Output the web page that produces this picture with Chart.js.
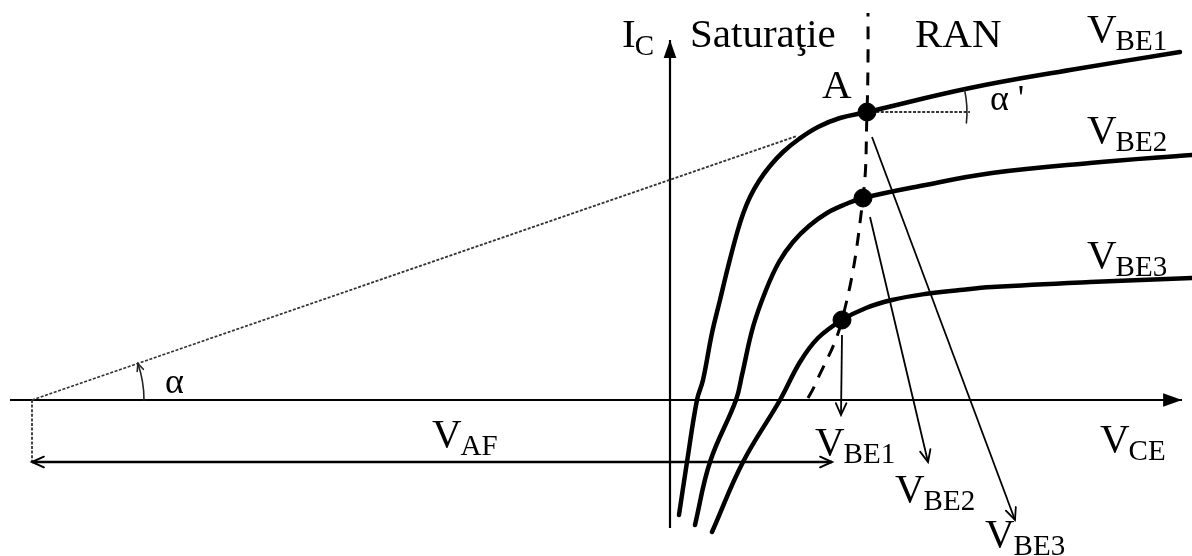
<!DOCTYPE html>
<html lang="ro">
<head>
<meta charset="utf-8">
<title>Efectul Early</title>
<script src="https://cdn.jsdelivr.net/npm/chart.js@4.4.1/dist/chart.umd.min.js"></script>
<style>
  html, body { margin: 0; padding: 0; background: #fff; }
  .box { width: 1192px; height: 556px; }
</style>
</head>
<body>
<div class="box"><canvas id="earlycanvas"></canvas></div>
<script>
// caracteristicile de iesire IC(VCE) pentru cele trei valori VBE
const vce1 = [0.9, 1.7, 2.7, 3.3, 4.2, 5.0, 5.8, 6.7, 7.3, 8.0, 8.9, 10.0, 11.3, 12.9, 14.8, 17.0, 19.7, 30.0, 40.0, 51.0];
const ic1  = [-11.5, -6.2, 0, 2.0, 6.7, 10.0, 13.3, 16.7, 18.6, 20.3, 21.9, 23.4, 24.8, 26.1, 27.3, 28.2, 28.8, 31.2, 33.0, 34.8];
const vce2 = [2.5, 4.0, 6.6, 7.2, 8.3, 9.6, 10.9, 12.3, 13.9, 15.7, 17.6, 19.3, 25.0, 32.2, 42.0, 52.2];
const ic2  = [-12.5, -6.2, 0, 2.5, 7.3, 11.0, 13.8, 15.8, 17.4, 18.7, 19.6, 20.2, 21.4, 22.7, 23.7, 24.5];
const vce3 = [4.2, 7.3, 11.0, 13.0, 14.8, 17.2, 19.6, 22.2, 25.5, 29.0, 32.2, 42.0, 52.2];
const ic3  = [-13.2, -6.2, 0, 3.8, 6.2, 8.0, 9.2, 10.0, 10.6, 11.0, 11.3, 11.8, 12.2];

// limita saturatie / RAN
const vceLimita = [13.8, 14.4, 17.2, 19.3, 19.7, 19.8, 19.8];
const icLimita  = [0.2, 1.3, 8.0, 20.2, 28.8, 34.0, 38.7];

// punctele de pe limita (A, apoi VBE2, VBE3)
const vcePuncte = [19.7, 19.3, 17.2];
const icPuncte  = [28.8, 20.2, 8.0];

// tensiunea Early si capetele sagetilor spre etichetele VBE
const VAF = -63.8;
const sageataVBE1 = [[17.2, 6.5], [17.1, -1.5]];
const sageataVBE2 = [[20.0, 18.3], [25.8, -6.2]];
const sageataVBE3 = [[20.2, 26.3], [34.5, -12.0]];

const pereche = (xs, ys) => xs.map((v, i) => ({ x: v, y: ys[i] }));
const segment = s => s.map(p => ({ x: p[0], y: p[1] }));

const font = '"Liberation Serif", "Times New Roman", serif';
const etichete = [
  { t: 'I', s: 'C', x: -4.8, y: 35.3 },
  { t: 'Saturaţie', x: 2.0, y: 35.3 },
  { t: 'RAN', x: 24.5, y: 35.3 },
  { t: 'V', s: 'BE1', x: 41.7, y: 35.8 },
  { t: 'V', s: 'BE2', x: 41.7, y: 25.7 },
  { t: 'V', s: 'BE3', x: 41.7, y: 13.2 },
  { t: 'A', x: 15.2, y: 30.2 },
  { t: 'α \'', x: 32.0, y: 29.0, mic: true },
  { t: 'α', x: -50.5, y: 0.7, mic: true },
  { t: 'V', s: 'AF', x: -23.8, y: -4.7 },
  { t: 'V', s: 'CE', x: 43.0, y: -5.2 },
  { t: 'V', s: 'BE1', x: 14.5, y: -5.5 },
  { t: 'V', s: 'BE2', x: 22.5, y: -10.2 },
  { t: 'V', s: 'BE3', x: 31.5, y: -14.7 }
];

function varf(ctx, de, la, tip, lung) {
  const ang = Math.atan2(la.y - de.y, la.x - de.x);
  const a = tip === 'plin' ? 0.34 : 0.42;
  const p1 = { x: la.x - lung * Math.cos(ang - a), y: la.y - lung * Math.sin(ang - a) };
  const p2 = { x: la.x - lung * Math.cos(ang + a), y: la.y - lung * Math.sin(ang + a) };
  ctx.beginPath();
  if (tip === 'plin') {
    ctx.moveTo(la.x, la.y);
    ctx.lineTo(p1.x, p1.y);
    ctx.lineTo(p2.x, p2.y);
    ctx.closePath();
    ctx.fill();
  } else {
    ctx.moveTo(p1.x, p1.y);
    ctx.lineTo(la.x, la.y);
    ctx.lineTo(p2.x, p2.y);
    ctx.stroke();
  }
}

const adnotari = {
  id: 'adnotari',
  afterDatasetsDraw(chart) {
    const { ctx, scales: { x, y } } = chart;
    ctx.save();
    ctx.setLineDash([]);
    ctx.lineCap = 'round';

    // varfurile de sageata
    chart.data.datasets.forEach((ds, i) => {
      (ds.sageti || []).forEach(s => {
        const el = chart.getDatasetMeta(i).data;
        const n = el.length;
        const [a, b] = s.la === 'end' ? [el[n - 2], el[n - 1]] : [el[1], el[0]];
        ctx.strokeStyle = '#000';
        ctx.fillStyle = '#000';
        ctx.lineWidth = s.grosime || ds.borderWidth;
        varf(ctx, a, b, s.tip, s.lung);
      });
    });

    // unghiul alfa la VAF
    const O = { x: x.getPixelForValue(VAF), y: y.getPixelForValue(0) };
    const A = { x: x.getPixelForValue(vcePuncte[0]), y: y.getPixelForValue(icPuncte[0]) };
    const u = Math.atan2(A.y - O.y, A.x - O.x);
    const r = 112;
    ctx.strokeStyle = '#222';
    ctx.lineWidth = 1.6;
    ctx.beginPath();
    ctx.arc(O.x, O.y, r, 0, u, true);
    ctx.stroke();
    const E = { x: O.x + r * Math.cos(u), y: O.y + r * Math.sin(u) };
    const d = u - Math.PI / 2;
    varf(ctx, { x: E.x - 6 * Math.cos(d), y: E.y - 6 * Math.sin(d) }, E, 'deschis', 8);

    // unghiul alfa' in A
    ctx.beginPath();
    ctx.arc(A.x, A.y, 100, 0.11, -0.22, true);
    ctx.stroke();

    // texte
    ctx.fillStyle = '#000';
    ctx.textBaseline = 'alphabetic';
    etichete.forEach(e => {
      const px = x.getPixelForValue(e.x);
      const py = y.getPixelForValue(e.y);
      ctx.font = (e.mic ? '36px ' : '41px ') + font;
      ctx.fillText(e.t, px, py);
      if (e.s) {
        const w = ctx.measureText(e.t).width;
        ctx.font = '29px ' + font;
        ctx.fillText(e.s, px + w - 1, py + 8);
      }
    });
    ctx.restore();
  }
};

const linie = (data, extra) => Object.assign({
  data: data,
  borderColor: '#000',
  backgroundColor: '#000',
  pointRadius: 0,
  borderWidth: 1.8,
  tension: 0
}, extra);

const curba = { borderWidth: 4.5, tension: 0.4, borderCapStyle: 'round', borderJoinStyle: 'round' };
const punctat = { borderColor: '#333', borderWidth: 1.8, borderDash: [3, 1.6] };

const canva = document.getElementById('earlycanvas').getContext('2d');
new Chart(canva, {
  type: 'line',
  data: {
    datasets: [
      {
        label: 'puncte',
        data: pereche(vcePuncte, icPuncte),
        pointRadius: 9,
        pointBackgroundColor: '#000',
        pointBorderColor: '#000',
        showLine: false
      },
      linie(pereche(vceLimita, icLimita), { label: 'limita', borderWidth: 3, borderDash: [13, 10], tension: 0.4 }),
      linie(pereche(vce1, ic1), Object.assign({ label: 'VBE1' }, curba)),
      linie(pereche(vce2, ic2), Object.assign({ label: 'VBE2' }, curba)),
      linie(pereche(vce3, ic3), Object.assign({ label: 'VBE3' }, curba)),
      linie(segment(sageataVBE1), { label: 's1', sageti: [{ la: 'end', tip: 'deschis', lung: 13 }] }),
      linie(segment(sageataVBE2), { label: 's2', sageti: [{ la: 'end', tip: 'deschis', lung: 13 }] }),
      linie(segment(sageataVBE3), { label: 's3', sageti: [{ la: 'end', tip: 'deschis', lung: 13 }] }),
      linie([{ x: VAF, y: -6.2 }, { x: 16.2, y: -6.2 }], {
        label: 'VAF', borderWidth: 2.4,
        sageti: [{ la: 'start', tip: 'deschis', lung: 13, grosime: 2 }, { la: 'end', tip: 'deschis', lung: 13, grosime: 2 }]
      }),
      linie([{ x: VAF, y: 0 }, { x: 12.7, y: 26.4 }], Object.assign({ label: 'tangenta' }, punctat)),
      linie([{ x: vcePuncte[0], y: icPuncte[0] }, { x: 30.0, y: icPuncte[0] }], Object.assign({ label: 'orizontala' }, punctat)),
      linie([{ x: VAF, y: 0 }, { x: VAF, y: -6.2 }], Object.assign({ label: 'verticala' }, punctat)),
      linie([{ x: -66, y: 0 }, { x: 51.2, y: 0 }], { label: 'VCE', borderWidth: 2.2, sageti: [{ la: 'end', tip: 'plin', lung: 20 }] }),
      linie([{ x: 0, y: -12.8 }, { x: 0, y: 36.0 }], { label: 'IC', borderWidth: 2.2, sageti: [{ la: 'end', tip: 'plin', lung: 19 }] })
    ]
  },
  options: {
    responsive: true,
    maintainAspectRatio: false,
    animation: false,
    events: [],
    layout: { padding: 0, autoPadding: false },
    plugins: {
      legend: { display: false },
      tooltip: { enabled: false }
    },
    scales: {
      x: { type: 'linear', min: -67, max: 52.2, display: false },
      y: { type: 'linear', min: -15.6, max: 40, display: false }
    }
  },
  plugins: [adnotari]
});
</script>
</body>
</html>
